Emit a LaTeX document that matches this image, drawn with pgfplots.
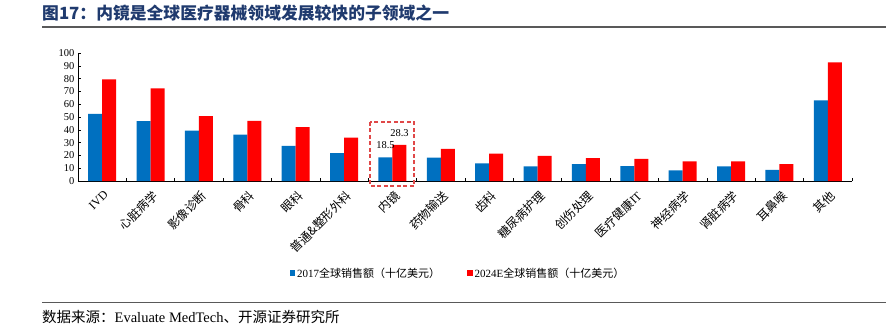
\documentclass[border=0pt]{standalone}
\usepackage{pgfplots}
\pgfplotsset{compat=1.18}
\usepackage{fontspec}
\setmainfont{Liberation Serif}
\newfontfamily\cjk{Noto Sans CJK SC}
\definecolor{b1}{HTML}{0070C0}
\definecolor{r1}{HTML}{FF0000}
\definecolor{tblue}{HTML}{1F3A6E}
\definecolor{boxred}{HTML}{E04848}
\begin{document}
\begin{tikzpicture}
\useasboundingbox (0,0) rectangle (886bp,-327bp);
\node[anchor=west, inner sep=0, text=tblue, font=\cjk\bfseries\fontsize{16.8bp}{19bp}\selectfont] at (42bp,-13bp) {图17：内镜是全球医疗器械领域发展较快的子领域之一};
\draw[gray!70!black, line width=1.5bp] (42bp,-27bp) -- (886bp,-27bp);
\draw[gray!70!black, line width=0.8bp] (42bp,-302bp) -- (886bp,-302bp);
\node[anchor=west, inner sep=0, font=\cjk\fontsize{14.5bp}{16bp}\selectfont] at (42bp,-317bp) {数据来源：{\rmfamily Evaluate MedTech}、开源证券研究所};
\begin{axis}[
  at={(78bp,-181bp)}, anchor=south west,
  scale only axis, width=774bp, height=128bp,
  ybar=0pt, bar width=14bp,
  xmin=-0.5, xmax=15.5, ymin=0, ymax=100,
  ytick={0,10,...,100},
  xtick={0,...,15},
  minor xtick={-0.5,0.5,...,15.5},
  major x tick style={draw=none},
  tick align=inside,
  major tick length=3bp, minor tick length=3bp,
  tick style={black, line width=0.6bp},
  axis x line*=bottom, axis y line*=left,
  axis line style={black, line width=0.8bp},
  clip=false,
  /pgf/number format/assume math mode=true,
  yticklabel style={font=\fontsize{10.5bp}{12bp}\selectfont},
  xticklabel style={xshift=1bp, yshift=-7bp, rotate=45, anchor=north east, inner sep=1bp, font=\cjk\fontsize{12bp}{14bp}\selectfont},
  xticklabels={{\rmfamily IVD},心脏病学,影像诊断,骨科,眼科,普通\&整形外科,内镜,药物输送,齿科,糖尿病护理,创伤处理,医疗健康{\rmfamily IT},神经病学,肾脏病学,耳鼻喉,其他},
  legend style={at={(0.491,-0.72)}, anchor=center, draw=none, legend columns=2,
    font=\cjk\fontsize{11bp}{13bp}\selectfont,
    /tikz/every even column/.append style={column sep=25bp}},
  legend image code/.code={\fill[#1] (0bp,-2.8bp) rectangle (5.5bp,2.8bp);},
]
\addplot[fill=b1, draw=none] coordinates {
(0,52.5) (1,46.7) (2,39.4) (3,36.3) (4,27.4) (5,21.7) (6,18.5) (7,18.3)
(8,13.8) (9,11.5) (10,13.1) (11,11.7) (12,8.4) (13,11.5) (14,8.6) (15,62.9)};
\addlegendentry{{\rmfamily 2017}全球销售额（十亿美元）}
\addplot[fill=r1, draw=none] coordinates {
(0,79.4) (1,72.3) (2,50.7) (3,47.0) (4,42.0) (5,33.9) (6,28.3) (7,25.1)
(8,21.4) (9,19.6) (10,17.8) (11,17.2) (12,15.4) (13,15.4) (14,13.1) (15,92.7)};
\addlegendentry{{\rmfamily 2024E}全球销售额（十亿美元）}
\node[anchor=south, inner sep=0, font=\fontsize{10.5bp}{12bp}\selectfont, xshift=-7bp, yshift=8bp] at (axis cs:6,18.5) {18.5};
\node[anchor=south, inner sep=0, font=\fontsize{10.5bp}{12bp}\selectfont, xshift=7bp, yshift=8bp] at (axis cs:6,28.3) {28.3};
\draw[boxred, line width=1.2bp, dash pattern=on 4bp off 2.5bp] (axis cs:5.536,46.1) rectangle (axis cs:6.446,-3.9);
\end{axis}
\end{tikzpicture}
\end{document}
